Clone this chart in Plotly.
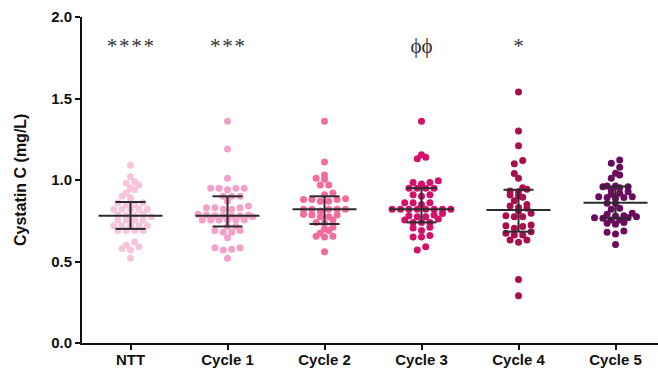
import numpy as np
import plotly.graph_objects as go

categories = ["NTT", "Cycle 1", "Cycle 2", "Cycle 3", "Cycle 4", "Cycle 5"]
colors = ["#F8C3DC", "#F5A0C8", "#F26C9C", "#D3116A", "#A90F4F", "#6A0B5C"]

ntt = [1.09, 1.02, 0.99, 0.98, 0.97, 0.95, 0.94, 0.92, 0.90, 0.89, 0.86, 0.86,
       0.85, 0.85, 0.82, 0.82, 0.82, 0.82, 0.82, 0.79, 0.785, 0.78, 0.78, 0.775,
       0.755, 0.755, 0.755, 0.755, 0.72, 0.72, 0.72, 0.72, 0.72, 0.69, 0.69,
       0.69, 0.69, 0.62, 0.60, 0.59, 0.58, 0.57, 0.52]
cycle1 = [1.36, 1.19, 1.01, 0.95, 0.95, 0.95, 0.95, 0.94, 0.90, 0.90, 0.90,
          0.87, 0.84, 0.83, 0.83, 0.83, 0.82, 0.82, 0.79, 0.785, 0.785, 0.78,
          0.78, 0.78, 0.78, 0.775, 0.755, 0.755, 0.755, 0.755, 0.755, 0.755,
          0.715, 0.715, 0.69, 0.69, 0.68, 0.68, 0.645, 0.585, 0.585, 0.575,
          0.57, 0.52]
cycle2 = [1.36, 1.11, 1.03, 1.01, 1.005, 0.97, 0.97, 0.92, 0.91, 0.88, 0.88,
          0.885, 0.87, 0.87, 0.88, 0.82, 0.82, 0.82, 0.82, 0.82, 0.81, 0.785,
          0.775, 0.775, 0.785, 0.79, 0.74, 0.735, 0.755, 0.70, 0.71, 0.69,
          0.675, 0.655, 0.65, 0.655, 0.56]
cycle3 = [1.36, 1.14, 1.13, 1.155, 0.985, 0.975, 0.985, 0.995, 0.95, 0.95,
          0.95, 0.95, 0.91, 0.90, 0.91, 0.86, 0.86, 0.85, 0.86, 0.82, 0.82,
          0.82, 0.82, 0.82, 0.82, 0.82, 0.82, 0.785, 0.775, 0.775, 0.78, 0.795,
          0.74, 0.74, 0.755, 0.74, 0.76, 0.71, 0.705, 0.69, 0.65, 0.65, 0.66,
          0.57, 0.59]
cycle4 = [1.54, 1.30, 1.21, 1.12, 1.10, 1.04, 1.01, 0.953, 0.928, 0.933, 0.943,
          0.908, 0.902, 0.873, 0.894, 0.84, 0.826, 0.832, 0.85, 0.796, 0.775,
          0.81, 0.775, 0.781, 0.724, 0.704, 0.714, 0.72, 0.663, 0.683, 0.663,
          0.673, 0.632, 0.618, 0.632, 0.39, 0.29]
cycle5 = [1.123, 1.102, 1.078, 1.041, 1.031, 1.010, 0.959, 0.953, 0.959, 0.963,
          0.963, 0.928, 0.939, 0.918, 0.912, 0.898, 0.892, 0.888, 0.892, 0.898,
          0.857, 0.857, 0.826, 0.820, 0.796, 0.790, 0.779, 0.769, 0.769, 0.755,
          0.755, 0.765, 0.775, 0.781, 0.734, 0.728, 0.740, 0.687, 0.679, 0.669,
          0.605]
groups = [ntt, cycle1, cycle2, cycle3, cycle4, cycle5]

medians = [0.78, 0.78, 0.82, 0.82, 0.816, 0.86]
q1 = [0.70, 0.715, 0.73, 0.74, 0.683, 0.765]
q3 = [0.865, 0.90, 0.90, 0.95, 0.94, 0.96]

sig_labels = ["*\u200a*\u200a*\u200a*", "*\u200a*\u200a*", "", "ϕϕ", "*", ""]
sig_y = 1.81

# ---- layout geometry (pixels) ----
W, H = 658, 369
ML, MR, MT, MB = 82, 0, 17, 26
plot_w = W - ML - MR
plot_h = H - MT - MB
cat_px = 97.0
x_range = [-0.5, -0.5 + plot_w / cat_px]
y_range = [0, 2]
px_per_y = plot_h / (y_range[1] - y_range[0])

marker_d = 7
gap_x = 8.4      # horizontal distance between dots in a row (px)
row_tol = 3.5    # values closer than this (px) share a row
near_row = 7.0   # rows closer than this get interleaved


def row_layout(values):
    """Prism-like scatter: group close values into rows, centre each row."""
    v = np.asarray(values, dtype=float)
    order = np.argsort(v, kind="stable")
    rows = []
    for idx in order:
        if rows and (v[idx] - v[rows[-1][0]]) * px_per_y <= row_tol:
            rows[-1].append(idx)
        else:
            rows.append([idx])
    offsets = np.zeros(len(v))
    prev_y, prev_n, prev_shift = None, None, 0.0
    sign = 1.0
    for r in rows:
        n = len(r)
        y_mean = np.mean(v[r]) * px_per_y
        pos = (np.arange(n) - (n - 1) / 2.0) * gap_x
        shift = 0.0
        if prev_y is not None and abs(y_mean - prev_y) < near_row:
            if (n % 2) == (prev_n % 2) and prev_shift == 0.0:
                shift = sign * gap_x / 2.0
                sign = -sign
        pos = pos + shift
        cen = np.argsort(np.abs(pos), kind="stable")
        for k, j in enumerate(r):
            offsets[j] = pos[cen[k]]
        prev_y, prev_n, prev_shift = y_mean, n, shift
    return offsets / cat_px


fig = go.Figure()

for i, vals in enumerate(groups):
    v = np.array(vals)
    xo = row_layout(v)
    fig.add_trace(go.Scatter(
        x=i + xo, y=v, mode="markers",
        marker=dict(size=marker_d, color=colors[i], line=dict(width=0)),
        showlegend=False, hoverinfo="y"))

# median + IQR error bars
med_half = 32 / cat_px
cap_half = 15 / cat_px
ex, ey = [], []
for i in range(len(categories)):
    ex += [i - med_half, i + med_half, None]
    ey += [medians[i], medians[i], None]
    ex += [i, i, None]
    ey += [q1[i], q3[i], None]
    ex += [i - cap_half, i + cap_half, None]
    ey += [q1[i], q1[i], None]
    ex += [i - cap_half, i + cap_half, None]
    ey += [q3[i], q3[i], None]
fig.add_trace(go.Scatter(x=ex, y=ey, mode="lines",
                         line=dict(color="#2b2b2b", width=2),
                         showlegend=False, hoverinfo="skip"))

fig.add_trace(go.Scatter(
    x=list(range(len(categories))), y=[sig_y] * len(categories),
    mode="text", text=sig_labels, textposition="middle center",
    textfont=dict(family="Liberation Serif", size=21, color="#333333"),
    showlegend=False, hoverinfo="skip"))

axis_font = dict(family="Liberation Sans", size=15, color="#111111", weight="bold")

fig.update_layout(
    width=W, height=H,
    margin=dict(l=ML, r=MR, t=MT, b=MB, pad=0),
    paper_bgcolor="white", plot_bgcolor="white",
    xaxis=dict(range=x_range, tickmode="array", automargin=False,
               tickvals=list(range(len(categories))), ticktext=categories,
               showline=True, linecolor="#111111", linewidth=2,
               ticks="outside", ticklen=5, tickwidth=2, tickcolor="#111111",
               ticklabelstandoff=-3,
               showgrid=False, zeroline=False, tickfont=axis_font),
    yaxis=dict(range=y_range, tickvals=[0, 0.5, 1.0, 1.5, 2.0],
               tickformat=".1f", automargin=False,
               showline=True, linecolor="#111111", linewidth=2,
               ticks="outside", ticklen=5, tickwidth=2, tickcolor="#111111",
               showgrid=False, zeroline=False, tickfont=axis_font),
    annotations=[dict(text="Cystatin C (mg/L)", xref="paper", yref="paper",
                      x=(20 - ML) / plot_w, y=0.5, textangle=-90,
                      showarrow=False, xanchor="center", yanchor="middle",
                      font=dict(family="Liberation Sans", size=16,
                                color="#111111", weight="bold"))],
)

fig.write_html("out.html")
